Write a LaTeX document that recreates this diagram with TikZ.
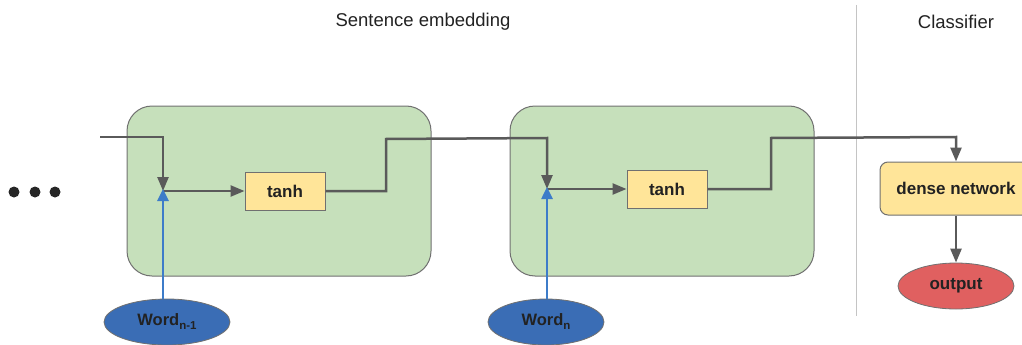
\documentclass[tikz,border=0pt]{standalone}
\usepackage{fontspec}
\setmainfont{Liberation Sans}
\usetikzlibrary{arrows.meta,shapes.geometric}
\definecolor{cellgreen}{HTML}{C6E0BB}
\definecolor{linegray}{HTML}{5A5A5A}
\definecolor{bordergray}{HTML}{707070}
\definecolor{tanhyellow}{HTML}{FFE599}
\definecolor{wordblue}{HTML}{3A6DB5}
\definecolor{arrowblue}{HTML}{3D7CC9}
\definecolor{outred}{HTML}{E06060}
\definecolor{divgray}{HTML}{C4C4C4}
\definecolor{txt}{HTML}{222222}
\begin{document}
\begin{tikzpicture}[x=1pt,y=-1pt,
  cell/.style={draw=bordergray, line width=1pt, fill=cellgreen, rounded corners=25pt, minimum width=304pt, minimum height=170pt, inner sep=0pt},
  tanhbox/.style={draw=bordergray, line width=1pt, fill=tanhyellow, minimum width=80pt, minimum height=38pt, inner sep=0pt, font=\fontsize{17}{19}\selectfont\bfseries, text=txt},
  wordnode/.style={ellipse, draw=bordergray, line width=0.8pt, fill=wordblue, minimum height=46pt, inner sep=0pt, font=\fontsize{16.5}{18}\selectfont\bfseries, text=txt},
  flow/.style={draw=linegray, line width=2.5pt, -{Triangle[length=14pt,width=11pt]}},
  plain/.style={draw=linegray, line width=2.5pt},
  inflow/.style={draw=arrowblue, line width=2.5pt, -{Triangle[length=12pt,width=11pt]}},
  title/.style={font=\fontsize{18.5}{20}\selectfont, text=txt},
  dot/.style={circle, fill=black!85, minimum size=11pt, inner sep=0pt}
]
\useasboundingbox (0,0) rectangle (1022,345);
% titles
\node[title] (t1) at (423,22) {Sentence embedding};
\node[title] (t2) at (956,22) {Classifier};
% divider
\coordinate (dtop) at (856,5);
\coordinate (dbot) at (856,316);
\draw[divgray, line width=1pt] (dtop) -- (dbot);
% dots
\node[dot] (d1) at (14,192) {};
\node[dot] (d2) at (35,192) {};
\node[dot] (d3) at (55,192) {};
% cells
\node[cell] (c1) at (279,191) {};
\node[cell] (c2) at (662,191) {};
\node[tanhbox] (h1) at (285,191) {tanh};
\node[tanhbox] (h2) at (667,189) {tanh};
% words
\node[wordnode, minimum width=126pt] (w1) at (167,322) {Word{\fontsize{11.5}{12}\selectfont\raisebox{-4pt}{n-1}}};
\node[wordnode, minimum width=116pt] (w2) at (546,322) {Word{\fontsize{11.5}{12}\selectfont\raisebox{-4pt}{n}}};
% classifier
\node[draw=bordergray, line width=1pt, fill=tanhyellow, rounded corners=8pt, minimum width=152pt, minimum height=53pt, inner sep=0pt, font=\fontsize{17}{19}\selectfont\bfseries, text=txt] (dn) at (956,188.5) {dense network};
\node[ellipse, draw=bordergray, line width=0.8pt, fill=outred, minimum width=116pt, minimum height=46pt, inner sep=0pt, font=\fontsize{17}{19}\selectfont\bfseries, text=txt] (out) at (956,286) {output};
% junctions
\coordinate (in0) at (100,137);
\coordinate (j1) at (163,191);
\coordinate (j2) at (547,189);
% cell 1 flow
\draw[flow] (in0) -- (163,137) -- (j1);
\draw[flow] (j1) -- (h1.west);
\draw[inflow] (w1.north -| j1) -- ([yshift=2pt]j1);
% cell 1 to cell 2
\draw[flow] (h1.east) -- (386,191) -- (386,139) -- (547,138) -- (j2);
\draw[flow] (j2) -- (h2.west);
\draw[inflow] (w2.north -| j2) -- ([yshift=2pt]j2);
% cell 2 to classifier
\draw[flow] (h2.east) -- (771,189) -- (771,138) -- (956,137) -- (dn.north);
\draw[flow] (dn.south) -- (out.north);
\end{tikzpicture}
\end{document}
